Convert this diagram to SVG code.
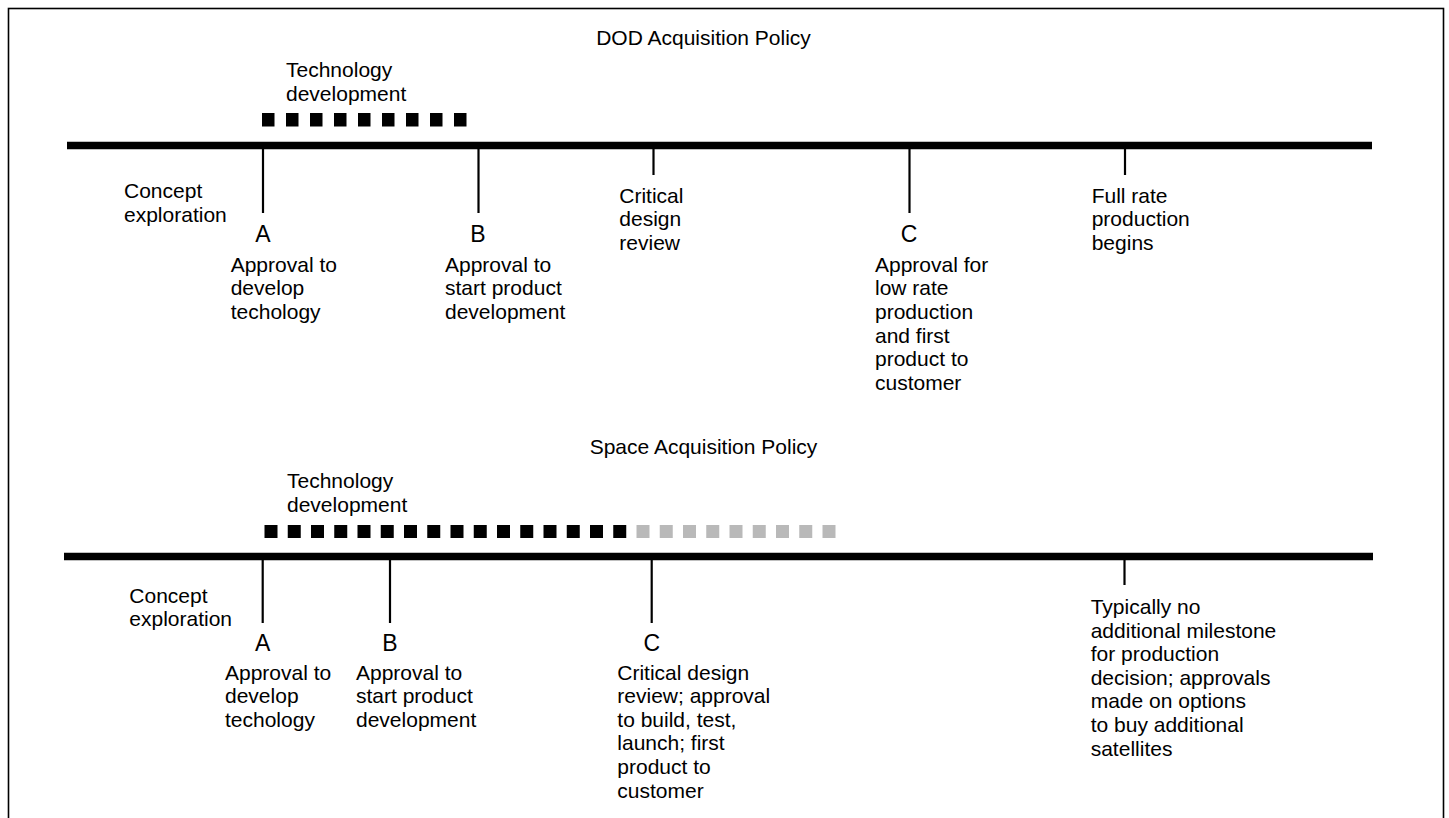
<svg xmlns="http://www.w3.org/2000/svg" width="1449" height="818" viewBox="0 0 1449 818">
<style>
text{font-family:"Liberation Sans",Arial,sans-serif;font-size:21px;fill:#000}
.ttl{text-anchor:middle}
.ltr{font-size:23px;text-anchor:middle}
.axis{stroke:#000;stroke-width:7.5}
.tick{stroke:#000;stroke-width:2.2}
.sq{fill:#000}
.sqg{fill:#b9b9b9}
</style>
<defs>
<rect id="s1" width="12.5" height="13.5"/>
<rect id="s2" width="13" height="13"/>
</defs>
<rect x="8.5" y="8.5" width="1435" height="830" fill="#fff" stroke="#000" stroke-width="1.6"/>

<g id="dod-title"><text class="ttl" x="703.5" y="45">DOD Acquisition Policy</text></g>
<g id="space-title"><text class="ttl" x="703.5" y="454">Space Acquisition Policy</text></g>

<g id="connectors">
<line class="axis" x1="67" y1="145.5" x2="1372" y2="145.5"/>
<line class="tick" x1="263" y1="148" x2="263" y2="213"/>
<line class="tick" x1="478.5" y1="148" x2="478.5" y2="213"/>
<line class="tick" x1="653.5" y1="148" x2="653.5" y2="175"/>
<line class="tick" x1="909.5" y1="148" x2="909.5" y2="213"/>
<line class="tick" x1="1125" y1="148" x2="1125" y2="175"/>
<line class="axis" x1="64" y1="556.5" x2="1373" y2="556.5"/>
<line class="tick" x1="262.7" y1="559" x2="262.7" y2="623"/>
<line class="tick" x1="390" y1="559" x2="390" y2="623"/>
<line class="tick" x1="651.7" y1="559" x2="651.7" y2="623"/>
<line class="tick" x1="1124.5" y1="559" x2="1124.5" y2="585"/>
</g>

<g id="dod-tech">
<text x="286" y="77">Technology</text>
<text x="286" y="101">development</text>
<g class="sq">
<use href="#s1" x="262" y="113"/><use href="#s1" x="286" y="113"/><use href="#s1" x="310" y="113"/>
<use href="#s1" x="334" y="113"/><use href="#s1" x="358" y="113"/><use href="#s1" x="382" y="113"/>
<use href="#s1" x="406" y="113"/><use href="#s1" x="430" y="113"/><use href="#s1" x="454" y="113"/>
</g>
</g>

<g id="dod-concept"><text x="124" y="198">Concept</text><text x="124" y="221.5">exploration</text></g>
<g id="dod-A"><text class="ltr" x="263" y="241.7">A</text>
<text x="230.7" y="271.7">Approval to</text><text x="230.7" y="295.3">develop</text><text x="230.7" y="318.9">techology</text></g>
<g id="dod-B"><text class="ltr" x="478" y="241.7">B</text>
<text x="445" y="271.7">Approval to</text><text x="445" y="295.3">start product</text><text x="445" y="318.9">development</text></g>
<g id="dod-cdr"><text x="619.3" y="202.7">Critical</text><text x="619.3" y="226.3">design</text><text x="619.3" y="249.9">review</text></g>
<g id="dod-C"><text class="ltr" x="909" y="241.7">C</text>
<text x="875" y="271.7">Approval for</text><text x="875" y="295.3">low rate</text><text x="875" y="318.9">production</text>
<text x="875" y="342.5">and first</text><text x="875" y="366.1">product to</text><text x="875" y="389.7">customer</text></g>
<g id="dod-full"><text x="1091.7" y="202.7">Full rate</text><text x="1091.7" y="226.3">production</text><text x="1091.7" y="249.9">begins</text></g>

<g id="space-tech">
<text x="287" y="488">Technology</text>
<text x="287" y="511.5">development</text>
<g class="sq">
<use href="#s2" x="264.5" y="525"/><use href="#s2" x="287.75" y="525"/><use href="#s2" x="311" y="525"/><use href="#s2" x="334.25" y="525"/>
<use href="#s2" x="357.5" y="525"/><use href="#s2" x="380.75" y="525"/><use href="#s2" x="404" y="525"/><use href="#s2" x="427.25" y="525"/>
<use href="#s2" x="450.5" y="525"/><use href="#s2" x="473.75" y="525"/><use href="#s2" x="497" y="525"/><use href="#s2" x="520.25" y="525"/>
<use href="#s2" x="543.5" y="525"/><use href="#s2" x="566.75" y="525"/><use href="#s2" x="590" y="525"/><use href="#s2" x="613.25" y="525"/>
</g>
<g class="sqg">
<use href="#s2" x="636.5" y="525"/><use href="#s2" x="659.75" y="525"/><use href="#s2" x="683" y="525"/><use href="#s2" x="706.25" y="525"/>
<use href="#s2" x="729.5" y="525"/><use href="#s2" x="752.75" y="525"/><use href="#s2" x="776" y="525"/><use href="#s2" x="799.25" y="525"/>
<use href="#s2" x="822.5" y="525"/>
</g>
</g>

<g id="space-concept"><text x="129.3" y="602.7">Concept</text><text x="129.3" y="626.3">exploration</text></g>
<g id="space-A"><text class="ltr" x="262.7" y="650.7">A</text>
<text x="225" y="679.5">Approval to</text><text x="225" y="703.1">develop</text><text x="225" y="726.7">techology</text></g>
<g id="space-B"><text class="ltr" x="390" y="650.7">B</text>
<text x="356" y="679.5">Approval to</text><text x="356" y="703.1">start product</text><text x="356" y="726.7">development</text></g>
<g id="space-C"><text class="ltr" x="651.7" y="650.7">C</text>
<text x="617.3" y="679.5">Critical design</text><text x="617.3" y="703.1">review; approval</text><text x="617.3" y="726.7">to build, test,</text>
<text x="617.3" y="750.3">launch; first</text><text x="617.3" y="773.9">product to</text><text x="617.3" y="797.5">customer</text></g>
<g id="space-prod"><text x="1090.7" y="614">Typically no</text><text x="1090.7" y="637.6">additional milestone</text><text x="1090.7" y="661.2">for production</text>
<text x="1090.7" y="684.8">decision; approvals</text><text x="1090.7" y="708.4">made on options</text><text x="1090.7" y="732">to buy additional</text><text x="1090.7" y="755.6">satellites</text></g>
</svg>
